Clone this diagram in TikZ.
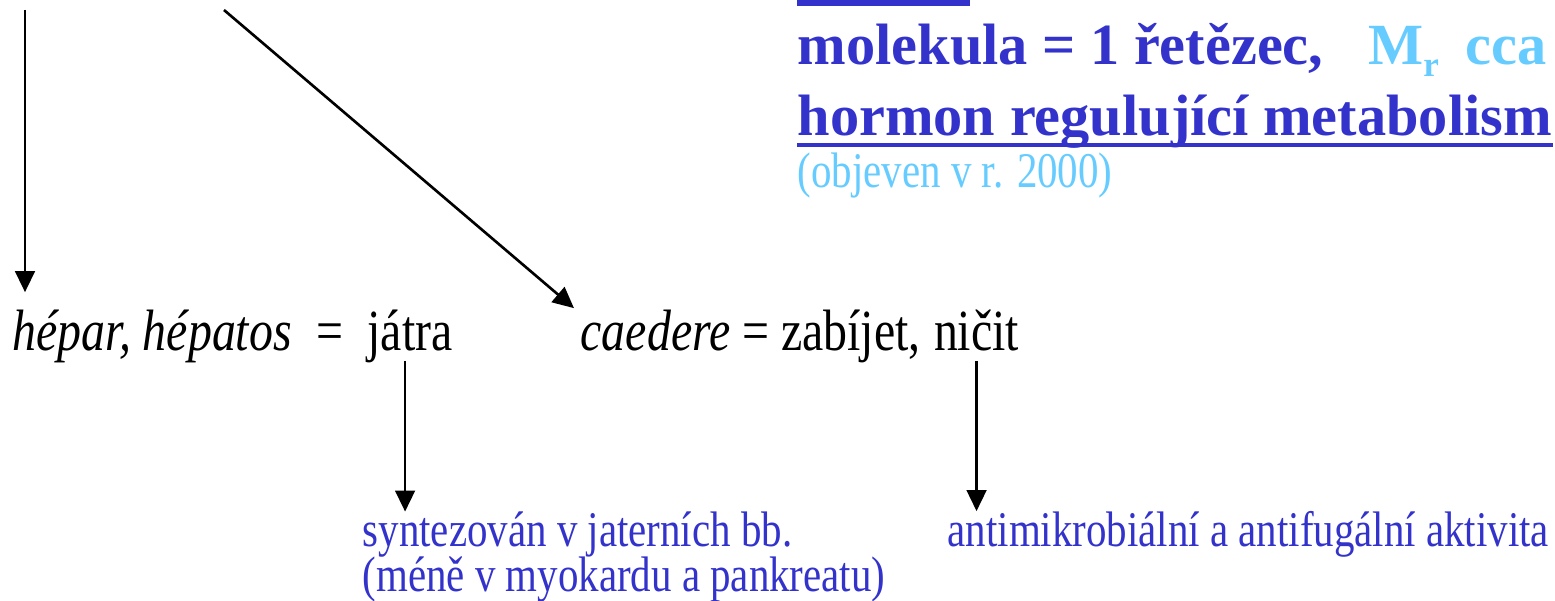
\documentclass[tikz,border=0pt]{standalone}
\usepackage{fontspec}
\setmainfont{Liberation Serif}
\newfontfamily\condfont[FakeStretch=0.82]{Liberation Serif}
\usepackage{xcolor}
\usepackage{tikz}
\usetikzlibrary{arrows.meta, positioning, calc}
\definecolor{myblue}{RGB}{51,51,204}
\definecolor{mylight}{RGB}{102,204,255}
\definecolor{mydark}{RGB}{0,0,0}
\tikzset{
  wordtxt/.style={font=\condfont\fontsize{16.6}{19}\selectfont, text=mydark,
    inner xsep=0pt, inner ysep=5pt, anchor=base west},
  notetxt/.style={font=\condfont\fontsize{14.2}{17}\selectfont, text=myblue,
    inner sep=0pt, anchor=base west},
  boldtxt/.style={font=\bfseries\fontsize{16.6}{19}\selectfont, text=myblue,
    inner sep=0pt, anchor=base west},
  lighttxt/.style={font=\condfont\fontsize{14.2}{17}\selectfont, text=mylight,
    inner sep=0pt, anchor=base west},
  arrow/.style={-{Triangle[length=6pt, width=5.6pt]}, line width=0.75pt, color=mydark}
}

\begin{document}
\begin{tikzpicture}
  \useasboundingbox (0,0) rectangle (15.55,-6.01);

  % Top right text block
  \fill[myblue] (7.97,0) rectangle (9.70,-0.06);
  \node[boldtxt] (molek) at (7.97,-0.65) {molekula = 1 řetězec,\hspace{0.77em}{\color{mylight}M\raisebox{-0.2em}{\fontsize{10}{10}\selectfont r}\hspace{0.45em}cca}};
  \node[boldtxt] (hormon) at (7.97,-1.36) {hormon regulující metabolism};
  \fill[myblue] ([yshift=-0.07cm]hormon.base west) rectangle ([yshift=-0.11cm]hormon.base east);
  \node[lighttxt] (objev) at (7.97,-1.88) {(objeven v r. 2000)};

  % Word origins
  \node[wordtxt] (hepar) at (0.12,-3.51) {\textit{hépar, hépatos}\hspace{7pt}=};
  \node[wordtxt, base right=6.5pt of hepar] (jatra) {játra};
  \node[wordtxt] (caedere) at (5.80,-3.51) {\textit{caedere} = zabíjet,};
  \node[wordtxt, base right=3.4pt of caedere] (nicit) {ničit};

  \node[notetxt] (synt) at (3.62,-5.47) {syntezován v jaterních bb.};
  \node[notetxt] (mene) at ([yshift=-0.45cm]synt.base west) {(méně v myokardu a pankreatu)};
  \node[notetxt] (anti) at (9.47,-5.47) {antimikrobiální a antifugální aktivita};

  \coordinate (srcA) at (0.25,-0.10);
  \coordinate (srcB) at (2.24,-0.10);

  \draw[arrow] (srcA) -- (srcA |- hepar.north);
  \draw[arrow] (srcB) -- ([shift={(-0.06,-0.16)}]caedere.north west);
  \draw[arrow] ([shift={(-0.05,-0.10)}]jatra.base) -- ([xshift=-0.05cm]jatra.base |- synt.north);
  \draw[arrow] ([yshift=-0.10cm]nicit.base) -- (nicit.base |- anti.north);
\end{tikzpicture}
\end{document}
